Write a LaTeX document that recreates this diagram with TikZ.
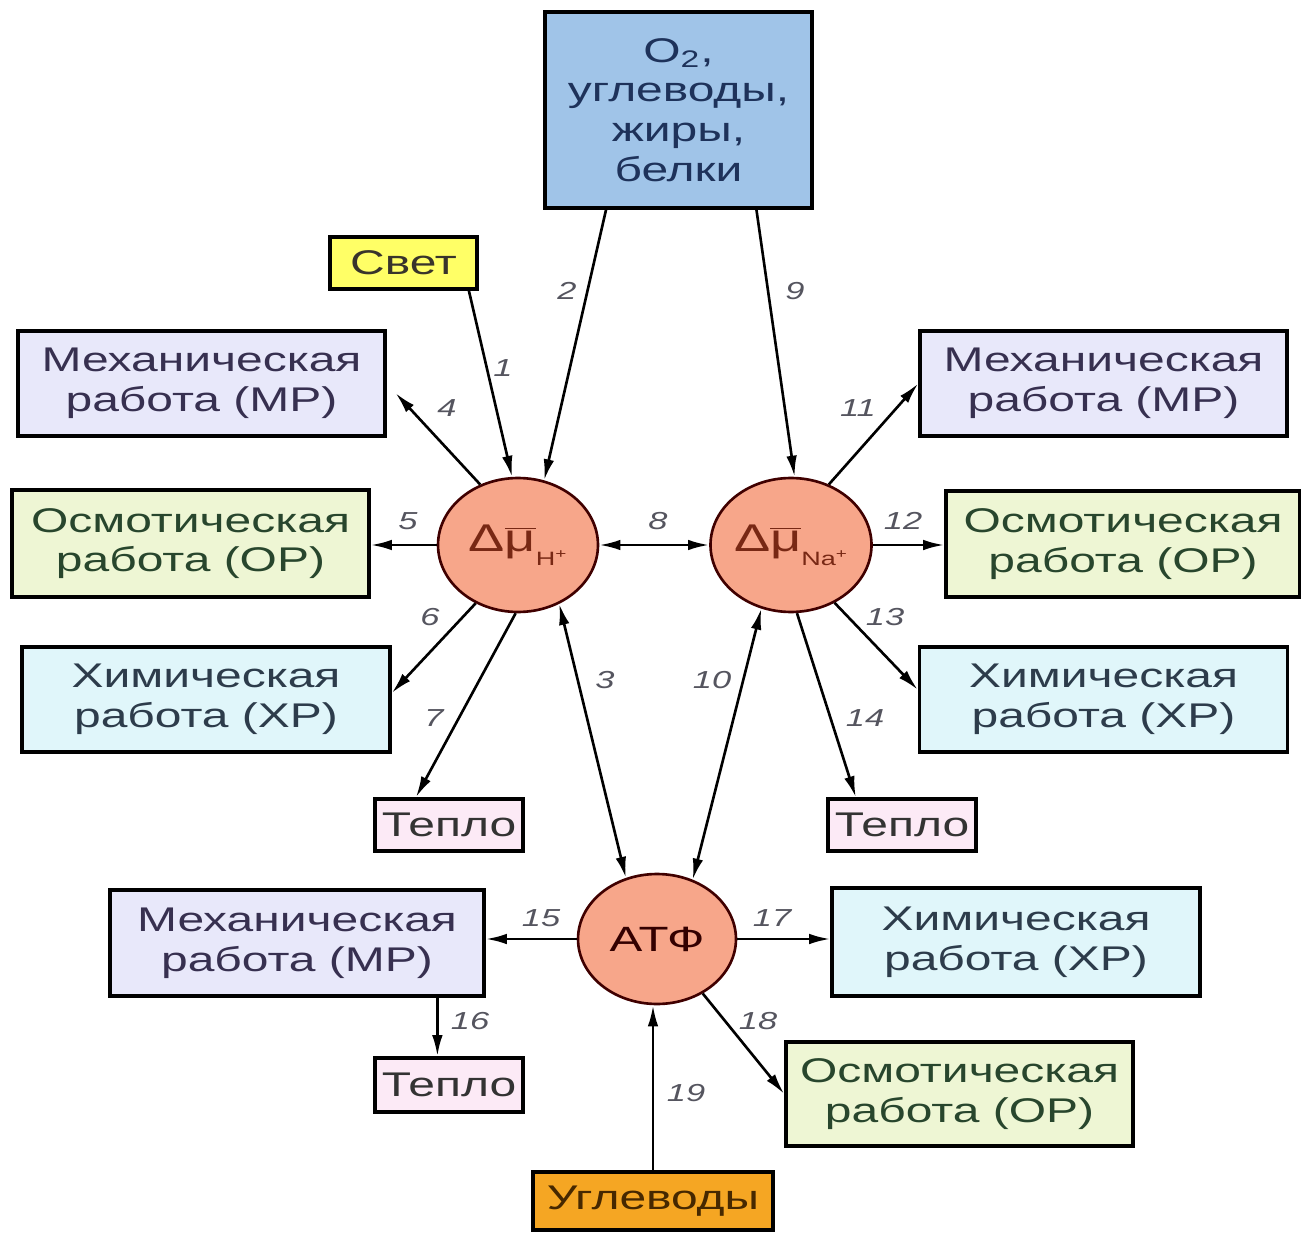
\documentclass[tikz,border=0pt]{standalone}
\usepackage{fontspec}
\setmainfont{Liberation Sans}[FakeStretch=1.4]
\usetikzlibrary{arrows.meta,shapes.geometric}
\definecolor{topfill}{RGB}{160,196,232}
\definecolor{toptext}{RGB}{30,50,90}
\definecolor{svetfill}{RGB}{255,255,102}
\definecolor{mpfill}{RGB}{232,232,250}
\definecolor{mptext}{RGB}{55,48,80}
\definecolor{opfill}{RGB}{238,246,212}
\definecolor{optext}{RGB}{40,70,45}
\definecolor{xpfill}{RGB}{224,246,250}
\definecolor{xptext}{RGB}{45,60,75}
\definecolor{tepfill}{RGB}{252,234,246}
\definecolor{circfill}{RGB}{247,166,138}
\definecolor{circtext}{RGB}{120,40,20}
\definecolor{uglfill}{RGB}{245,166,35}
\definecolor{ugltext}{RGB}{70,40,0}
\definecolor{numgray}{RGB}{85,85,95}
\begin{document}
\begin{tikzpicture}[x=0.02cm,y=-0.02cm,
  box/.style={draw=black,line width=2pt,align=center,inner sep=0pt,font=\fontsize{19.5}{22.6}\selectfont},
  mpbox/.style={box,fill=mpfill,text=mptext,minimum width=7.34cm,minimum height=2.1cm},
  opbox/.style={box,fill=opfill,text=optext,minimum width=7.14cm,minimum height=2.14cm},
  xpbox/.style={box,fill=xpfill,text=xptext,minimum width=7.36cm,minimum height=2.1cm},
  tepbox/.style={box,fill=tepfill,text=black!80,minimum width=2.96cm,minimum height=1.04cm},
  circ/.style={ellipse,draw=black!75!red,line width=1.5pt,fill=circfill,text=circtext,inner sep=0pt,minimum width=3.2cm,minimum height=2.68cm,font=\fontsize{22}{24}\selectfont},
  arr/.style={line width=1.5pt,-{Latex[length=12pt,width=6pt]}},
  darr/.style={line width=1.5pt,{Latex[length=12pt,width=6pt]}-{Latex[length=12pt,width=6pt]}},
  num/.style={font=\fontsize{14}{16}\selectfont\itshape,text=numgray,inner sep=0pt}]
\useasboundingbox (0,0) rectangle (1301,1236);
\fill[white] (0,0) rectangle (1301,1236);

% nodes
\node[box,fill=topfill,text=toptext,minimum width=5.34cm,minimum height=3.92cm] (top) at (678.5,110)
  {O\textsubscript{2},\\углеводы,\\жиры,\\белки};
\node[box,fill=svetfill,text=black!80!olive,minimum width=2.94cm,minimum height=1.04cm] (svet) at (403.5,263) {Свет};
\node[mpbox] (mpL) at (201.5,383.5) {Механическая\\работа (МР)};
\node[opbox] (opL) at (190.5,543.5) {Осмотическая\\работа (ОР)};
\node[xpbox] (xpL) at (206,699.5) {Химическая\\работа (ХР)};
\node[tepbox] (tepL) at (449,825) {Тепло};

\node[circ] (H) at (518,545) {Δ$\overline{\mbox{μ}}$\raisebox{-0.7ex}{\fontsize{11}{12}\selectfont H\textsuperscript{+}}};
\node[circ] (Na) at (791,545) {Δ$\overline{\mbox{μ}}$\raisebox{-0.7ex}{\fontsize{11}{12}\selectfont Na\textsuperscript{+}}};
\node[circ,minimum width=3.16cm,minimum height=2.6cm,text=black!80!red,font=\fontsize{20}{24}\selectfont] (ATP) at (657,939) {АТФ};

\node[mpbox] (mpR) at (1103.5,383.5) {Механическая\\работа (МР)};
\node[opbox,minimum width=7.08cm,minimum height=2.12cm] (opR) at (1123,544) {Осмотическая\\работа (ОР)};
\node[xpbox] (xpR) at (1103.5,699.5) {Химическая\\работа (ХР)};
\node[tepbox] (tepR) at (902,825) {Тепло};

\node[mpbox,minimum width=7.48cm,minimum height=2.12cm] (mpB) at (297,943) {Механическая\\работа (МР)};
\node[tepbox,minimum height=1.08cm] (tepB) at (449,1085) {Тепло};
\node[xpbox,minimum height=2.16cm] (xpB) at (1016,942) {Химическая\\работа (ХР)};
\node[opbox,minimum width=6.94cm,minimum height=2.08cm] (opB) at (959.5,1094) {Осмотическая\\работа (ОР)};
\node[box,fill=uglfill,text=ugltext,minimum width=4.8cm,minimum height=1.16cm] (ugl) at (653,1201) {Углеводы};

% connectors
\draw[arr] (svet.-23) -- (H.95);
\draw[arr] (top.-126) -- (H.68);
\draw[arr] (top.-52) -- (Na.87);
\draw[arr,shorten >=0.26cm] (H.122) -- (mpL.east);
\draw[arr] (H.west) -- (H.west -| opL.east);
\draw[arr] (H.-126) -- (xpL.2);
\draw[arr] (H.-92) -- (tepL.140);
\draw[darr] (H.-55) -- (ATP.117);
\draw[darr] (H.east) -- (Na.west);
\draw[darr] (Na.-115) -- (ATP.59);
\draw[arr] (Na.58) -- (mpR.west);
\draw[arr] (Na.east) -- (Na.east -| opR.west);
\draw[arr] (Na.-53) -- (xpR.177);
\draw[arr] (Na.-85) -- (tepR.149);
\draw[arr] (ATP.west) -- (ATP.west -| mpB.east);
\draw[arr] (ATP.east) -- (ATP.east -| xpB.west);
\draw[arr] (mpB.south -| tepB.112) -- (tepB.112);
\draw[arr] (ATP.-50) -- (opB.west);
\draw[arr] (ugl.north) -- (ugl.north |- ATP.south);

% connector numbers
\node[num] (n1) at (503,368) {1};
\node[num] (n2) at (567,291) {2};
\node[num] (n9) at (795,291) {9};
\node[num] (n4) at (447,408) {4};
\node[num] (n5) at (408,521) {5};
\node[num] (n8) at (658,521) {8};
\node[num] (n12) at (903,521) {12};
\node[num] (n11) at (858,408) {11};
\node[num] (n6) at (430,617) {6};
\node[num] (n13) at (885,617) {13};
\node[num] (n3) at (605,680) {3};
\node[num] (n10) at (712,680) {10};
\node[num] (n7) at (434,718) {7};
\node[num] (n14) at (865,718) {14};
\node[num] (n15) at (541,918) {15};
\node[num] (n17) at (772,918) {17};
\node[num] (n16) at (470,1021) {16};
\node[num] (n18) at (758,1021) {18};
\node[num] (n19) at (686,1093) {19};
\end{tikzpicture}
\end{document}
